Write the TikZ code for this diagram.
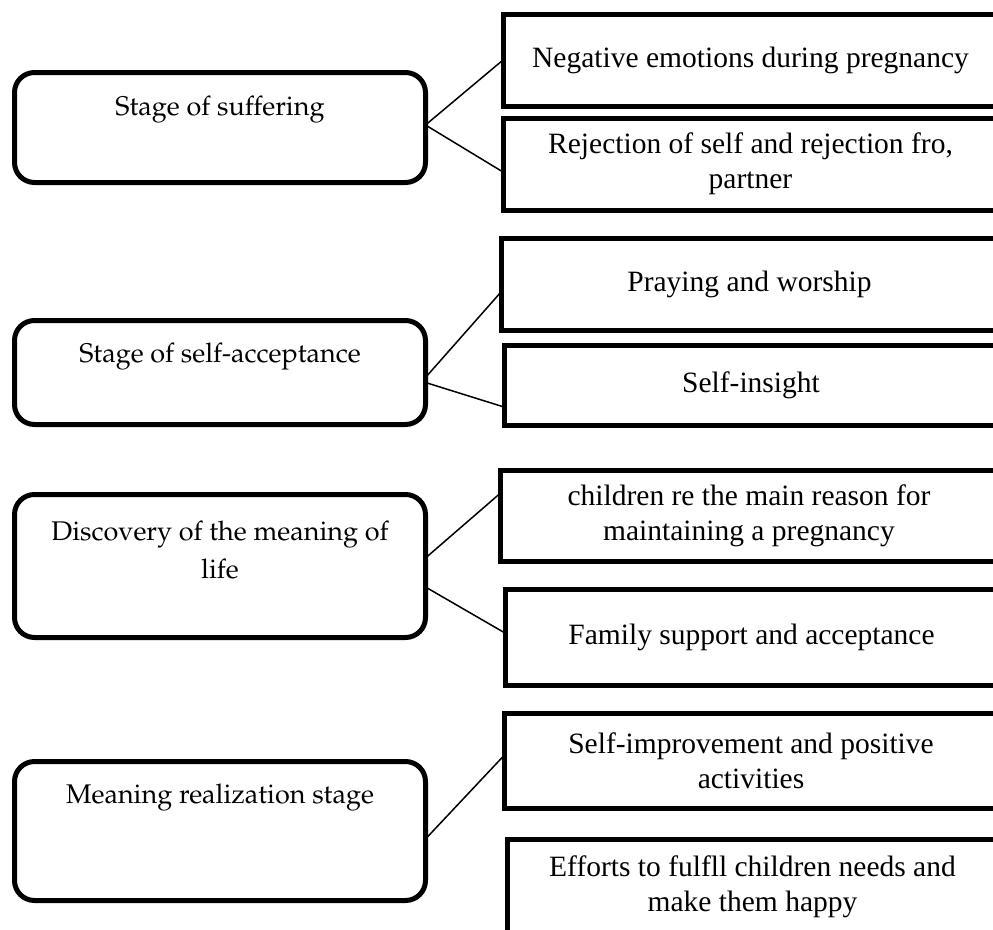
\documentclass[tikz,border=0pt]{standalone}
\usepackage[T1,TU]{fontenc}
\usepackage{fontspec}
\setmainfont{Liberation Serif}
\usepackage{tikz}
\newcommand{\palfont}{\fontencoding{T1}\fontfamily{ppl}\selectfont}
\tikzset{
stage/.style={draw, line width=5pt, rounded corners=20pt, minimum width=411pt, outer sep=0pt, inner sep=0pt},
stagetext/.style={align=center, font=\palfont\fontsize{27}{38}\selectfont},
item/.style={draw, line width=5pt, outer sep=0pt, align=center, font=\fontsize{29.5}{35}\selectfont},
link/.style={line width=1.5pt}
}

\begin{document}
\begin{tikzpicture}[x=1pt, y=-1pt]
\useasboundingbox (0,0) rectangle (993,929);
\clip (0,0) rectangle (993,929);
% stages
\foreach \n/\yc/\h/\yt/\txt in {1/127.5/110/110/{Stage of suffering}, 2/372.5/104/357/{Stage of self-acceptance}, 3/566/143/550/{Discovery of the meaning of\\ life}, 4/831/139/798/{Meaning realization stage}}{
\node[stage, minimum height=\h] (s\n) at (220,\yc) {};
\node[stagetext] (t\n) at (220,\yt) {\txt};
}
% themes, cut off at the right edge
\foreach \n/\l/\t/\b/\txt in {1a/503/14/106/{Negative emotions during pregnancy}, 1b/503/118/210/{Rejection of self and rejection fro,\\ partner}, 2a/501/238/330/{Praying and worship}, 2b/504/345/425/{Self-insight}, 3a/500/470/561/{children re the main reason for\\ maintaining a pregnancy}, 3b/505/589/685/{Family support and acceptance}, 4a/504/713/808/{Self-improvement and positive\\ activities}, 4b/507/839/935/{Efforts to fulfll children needs and\\ make them happy}}{
\node[item, minimum width=998-\l, minimum height=\b-\t] (i\n) at ({(\l+998)/2},{(\t+\b)/2}) {\txt};
}
% links
\foreach \a/\sa/\b/\sb in {s1/2.5/i1a/0, s1/2.5/i1b/-8, s2/-5/i2a/-8, s2/-10/i2b/-22, s3/8/i3a/22, s3/-21/i3b/4, s4/-8/i4a/5}{
\draw[link] ([yshift=\sa pt]\a.east) -- ([yshift=\sb pt]\b.west);
}
\end{tikzpicture}
\end{document}
